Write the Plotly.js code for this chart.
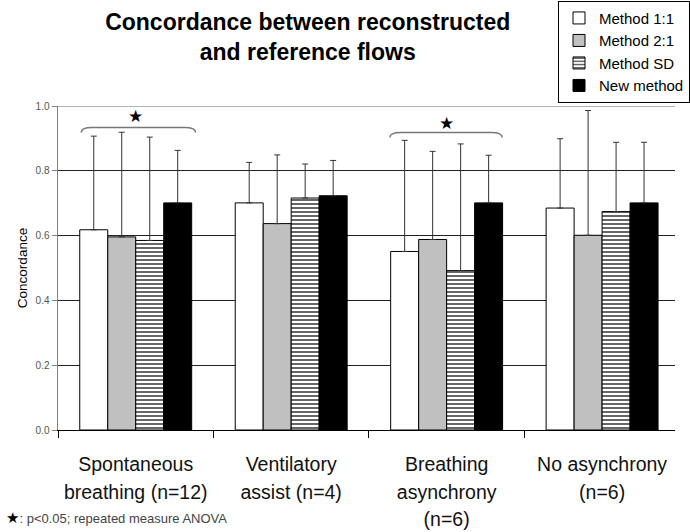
<!DOCTYPE html>
<html>
<head>
<meta charset="utf-8">
<script src="https://cdn.plot.ly/plotly-3.0.1.min.js"></script>
<style>html,body{margin:0;padding:0;background:#fff;}#chart{width:690px;height:532px;}</style>
</head>
<body>
<div id="chart"></div>
<script>
// ---- data ----
var categories = ['Spontaneous|breathing (n=12)', 'Ventilatory|assist (n=4)', 'Breathing|asynchrony|(n=6)', 'No asynchrony|(n=6)'];
var seriesNames = ['Method 1:1', 'Method 2:1', 'Method SD', 'New method'];
var method11 = [0.618, 0.701, 0.551, 0.685];
var method21 = [0.596, 0.637, 0.588, 0.601];
var methodSD = [0.585, 0.716, 0.492, 0.674];
var newMethod = [0.701, 0.723, 0.701, 0.701];
var sd11 = [0.289, 0.125, 0.343, 0.214];
var sd21 = [0.323, 0.212, 0.272, 0.385];
var sdSD = [0.319, 0.105, 0.391, 0.214];
var sdNew = [0.162, 0.109, 0.147, 0.187];
var yTicks = [0, 0.2, 0.4, 0.6, 0.8, 1.0];
var footnote = ': p<0.05; repeated measure ANOVA';

var FONT = 'Arial, "Liberation Sans", sans-serif';
var ticktext = categories.map(function (c) {
  return c.split('|').map(function (l) { return '<span style="font-size:19.5px">' + l + '</span>'; }).join('<br>');
});

function errBar(arr) {
  return {type: 'data', array: arr, symmetric: false, arrayminus: arr.map(function () { return 0; }),
          color: '#333', thickness: 1, width: 3};
}
var line = {color: '#000', width: 1};
var traces = [
  {type: 'bar', name: seriesNames[0], x: categories, y: method11, error_y: errBar(sd11),
   marker: {color: '#ffffff', line: line}},
  {type: 'bar', name: seriesNames[1], x: categories, y: method21, error_y: errBar(sd21),
   marker: {color: '#c0c0c0', line: line}},
  {type: 'bar', name: seriesNames[2], x: categories, y: methodSD, error_y: errBar(sdSD),
   marker: {color: '#ffffff', line: line, pattern: {shape: '-', fgcolor: '#000', bgcolor: '#fff', size: 4, solidity: 0.3}}},
  {type: 'bar', name: seriesNames[3], x: categories, y: newMethod, error_y: errBar(sdNew),
   marker: {color: '#000000', line: line}}
];

function brace(x0, x1, yTop, yEnd) {
  var d = 0.07;
  return {type: 'path', xref: 'x', yref: 'y', layer: 'above',
    path: 'M' + x0 + ',' + yEnd + ' Q' + x0 + ',' + yTop + ' ' + (x0 + d) + ',' + yTop +
          ' L' + (x1 - d) + ',' + yTop + ' Q' + x1 + ',' + yTop + ' ' + x1 + ',' + yEnd,
    line: {color: '#777', width: 1.5}};
}

var layout = {
  width: 690, height: 532,
  margin: {l: 58, r: 0, t: 106, b: 102},
  paper_bgcolor: '#fff', plot_bgcolor: '#fff',
  font: {family: FONT, color: '#000'},
  title: {text: 'Concordance between reconstructed<br>and reference flows',
          font: {family: FONT, size: 23, weight: 'bold', color: '#000'},
          xref: 'container', x: 0.446, xanchor: 'center', yref: 'container', y: 0.944, yanchor: 'top'},
  barmode: 'group', bargap: 0.28, bargroupgap: 0,
  showlegend: true,
  legend: {x: 0.811, xanchor: 'left', y: 1.325, yanchor: 'top', bgcolor: '#fff', bordercolor: '#000', borderwidth: 1,
           font: {family: FONT, size: 15, color: '#000'}, tracegroupgap: 0},
  xaxis: {type: 'category', range: [-0.5, 3.469], tickvals: categories, ticktext: ticktext,
          tickson: 'boundaries', ticks: 'outside', ticklen: 7, tickcolor: '#000', tickwidth: 1,
          showline: true, linecolor: '#000', linewidth: 1, showgrid: false,
          tickfont: {family: FONT, size: 21, color: '#111'}, ticklabelstandoff: 15, automargin: false},
  yaxis: {range: [0, 1.0], tickvals: yTicks, tickformat: '.1f', ticks: 'outside', ticklen: 5,
          tickcolor: '#808080', tickwidth: 1, showline: true, linecolor: '#808080', linewidth: 1.5,
          showgrid: true, gridcolor: '#222', gridwidth: 1, zeroline: false,
          tickfont: {family: FONT, size: 10, color: '#555'},
          title: {text: 'Concordance', font: {family: FONT, size: 13.5, color: '#000'}, standoff: 5},
          automargin: false},
  shapes: [
    {type: 'line', xref: 'paper', yref: 'y', x0: 0, x1: 1, y0: 1, y1: 1, line: {color: '#999', width: 1.5}, layer: 'above'},
    brace(-0.351, 0.385, 0.934, 0.918),
    brace(1.635, 2.357, 0.918, 0.903)
  ],
  annotations: [
    {xref: 'x', yref: 'y', x: 0, y: 0.968, text: '★', showarrow: false, font: {size: 17, color: '#000', family: 'DejaVu Sans'}},
    {xref: 'x', yref: 'y', x: 2, y: 0.949, text: '★', showarrow: false, font: {size: 17, color: '#000', family: 'DejaVu Sans'}},
    {xref: 'paper', yref: 'paper', x: -0.087, y: -0.272, xanchor: 'left', yanchor: 'middle', showarrow: false,
     text: '<span style="font-family:DejaVu Sans;font-size:15px;color:#000">★</span>' + footnote,
     font: {family: FONT, size: 13, color: '#444'}}
  ]
};

Plotly.newPlot('chart', traces, layout, {displayModeBar: false, staticPlot: true});
</script>
</body>
</html>
